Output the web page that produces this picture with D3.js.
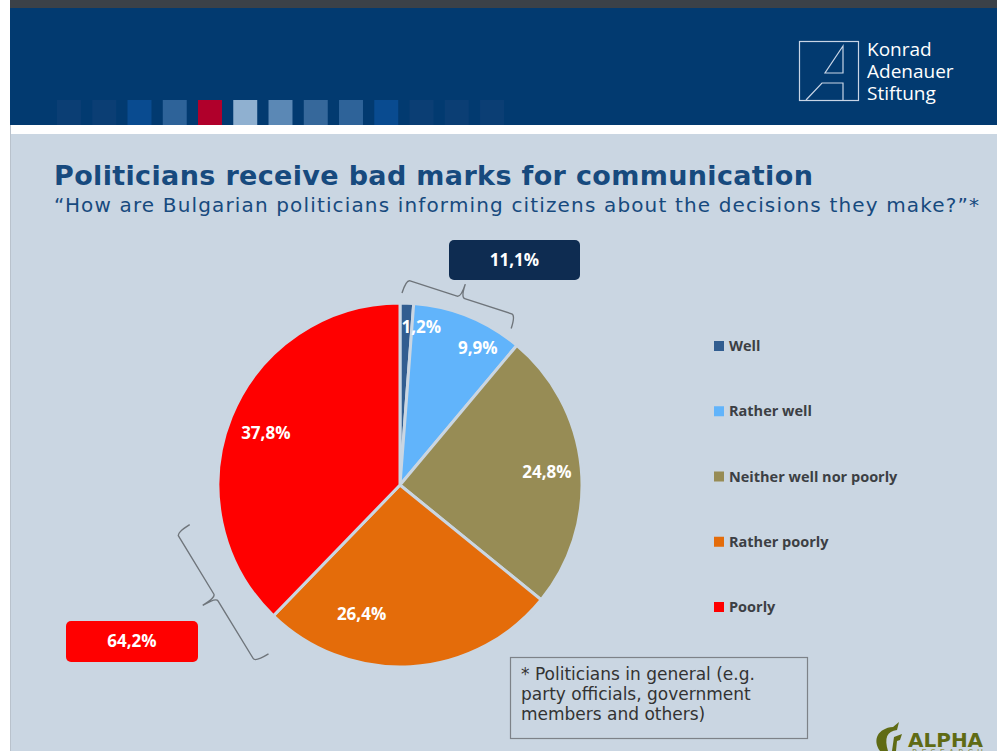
<!DOCTYPE html>
<html>
<head>
<meta charset="utf-8">
<script src="https://cdn.jsdelivr.net/npm/d3@7"></script>
<style>
  body { margin: 0; background: #ffffff; }
  svg { display: block; }
</style>
</head>
<body>
<div id="chart"></div>
<script>
'use strict';

// Survey answers
const categories = ['Well', 'Rather well', 'Neither well nor poorly', 'Rather poorly', 'Poorly'];
const shares = [1.2, 9.9, 24.8, 26.4, 37.8];
const shareLabels = ['1,2%', '9,9%', '24,8%', '26,4%', '37,8%'];
// Grouped totals shown in the callout boxes
const groupNames = ['positive', 'negative'];
const groupLabels = ['11,1%', '64,2%'];

const colors = ['#315d90', '#61b4fb', '#978c55', '#e46c0a', '#ff0000'];
const headerSquares = ['#0b3e74', '#0b3e74', '#094b90', '#2e6399', '#b0002b', '#8fb0d0',
  '#5b88b5', '#36689b', '#2e6399', '#094b90', '#0b3e74', '#0b3e74', '#0b3e74'];

const W = 997, H = 751;
const bg = '#cad6e2';
const labelFont = '"Open Sans", sans-serif';

const svg = d3.select('#chart').append('svg')
  .attr('width', W)
  .attr('height', H);

// Slide frame : header band, white strip and body
svg.append('rect').attr('x', 10).attr('y', 0).attr('width', W - 10).attr('height', 9).attr('fill', '#3b4148');
svg.append('rect').attr('x', 10).attr('y', 8).attr('width', W - 10).attr('height', 117).attr('fill', '#023a70');
svg.append('rect').attr('x', 10).attr('y', 134).attr('width', W - 10).attr('height', H - 134).attr('fill', bg);
svg.append('line').attr('x1', 10.5).attr('x2', 10.5).attr('y1', 125).attr('y2', H).attr('stroke', '#b9c2cc');

// Row of coloured squares in the header
const sq = d3.scaleBand().domain(d3.range(headerSquares.length)).range([57, 504]).paddingInner(0.32);
svg.append('g').selectAll('rect')
  .data(headerSquares)
  .join('rect')
  .attr('x', (d, i) => sq(i))
  .attr('y', 100)
  .attr('width', sq.bandwidth())
  .attr('height', 25)
  .attr('fill', d => d);

// Konrad Adenauer Stiftung logo
const logo = svg.append('g').attr('fill', 'none').attr('stroke', '#c9d5e6').attr('stroke-width', 1.2);
logo.append('rect').attr('x', 799.5).attr('y', 41.5).attr('width', 59).attr('height', 59);
logo.append('path').attr('d', 'M843,46 L825,73 L843,73 Z');
logo.append('path').attr('d', 'M806,100 L822,83 L843,83 L843,100');
svg.append('g').selectAll('text')
  .data(['Konrad', 'Adenauer', 'Stiftung'])
  .join('text')
  .attr('x', 867)
  .attr('y', (d, i) => 56 + i * 22)
  .attr('fill', '#ffffff')
  .style('font-family', '"Open Sans", sans-serif')
  .style('font-size', '19px')
  .text(d => d);

// Titles
svg.append('text')
  .attr('x', 54).attr('y', 185)
  .attr('fill', '#174a7e')
  .style('font-family', '"DejaVu Sans", Verdana, sans-serif')
  .style('font-weight', 'bold')
  .style('font-size', '27px')
  .style('letter-spacing', '0.35px')
  .text('Politicians receive bad marks for communication');
svg.append('text')
  .attr('x', 54).attr('y', 212)
  .attr('fill', '#174a7e')
  .style('font-family', '"DejaVu Sans", Verdana, sans-serif')
  .style('font-size', '20px')
  .style('letter-spacing', '1.15px')
  .text('\u201CHow are Bulgarian politicians informing citizens about the decisions they make?\u201D*');

// Pie
const cx = 400, cy = 485, radius = 182;
const pie = d3.pie().sort(null).value(d => d);
const arcs = pie(shares);
const arc = d3.arc().innerRadius(0).outerRadius(radius);

const pieG = svg.append('g').attr('transform', `translate(${cx}, ${cy})`);
pieG.selectAll('path')
  .data(arcs)
  .join('path')
  .attr('d', arc)
  .attr('fill', (d, i) => colors[i])
  .attr('stroke', bg)
  .attr('stroke-width', 3);

// Label placement : fraction of radius and angular shift (degrees) per slice
const labelRadius = [0.875, 0.865, 0.81, 0.74, 0.79];
const labelShift = [5.5, 7.5, 0.5, 20, -1];
pieG.selectAll('text')
  .data(arcs)
  .join('text')
  .attr('transform', (d, i) => {
    const a = (d.startAngle + d.endAngle) / 2 + labelShift[i] * Math.PI / 180;
    const r = radius * labelRadius[i];
    return `translate(${r * Math.sin(a)}, ${-r * Math.cos(a)})`;
  })
  .attr('text-anchor', 'middle')
  .attr('dy', '0.35em')
  .attr('fill', '#ffffff')
  .style('font-family', labelFont)
  .style('font-weight', 'bold')
  .style('font-size', '17px')
  .text((d, i) => shareLabels[i]);

// Curly brace : from p1 to p2, tip pointing to the left of p1->p2 at distance w
function bracePath(p1, p2, w) {
  const len = Math.hypot(p2[0] - p1[0], p2[1] - p1[1]);
  const t = [(p2[0] - p1[0]) / len, (p2[1] - p1[1]) / len];
  const n = [t[1], -t[0]];
  const h = w / 2, r = 4;
  const pt = (base, a, b) => [base[0] + n[0] * a + t[0] * b, base[1] + n[1] * a + t[1] * b];
  const mid = [(p1[0] + p2[0]) / 2, (p1[1] + p2[1]) / 2];
  const b1 = pt(p1, h, 0), b2 = pt(p2, h, 0), m = pt(mid, h, 0), tip = pt(mid, w, 0);
  const f = p => p[0].toFixed(1) + ',' + p[1].toFixed(1);
  return `M${f(p1)} Q${f(b1)} ${f(pt(b1, 0, r))} L${f(pt(m, 0, -r))} Q${f(m)} ${f(tip)}` +
    ` M${f(p2)} Q${f(b2)} ${f(pt(b2, 0, -r))} L${f(pt(m, 0, r))} Q${f(m)} ${f(tip)}`;
}

// Braces sit outside the pie; angles (degrees, clockwise from top) and radius of their ends
const braceAngles = [[0.6, 35.4], [217.9, 259.3]];
const braceRadius = [192, 214];
const braceWidth = [28, 31];
braceAngles.forEach((ang, gi) => {
  const rr = braceRadius[gi];
  const end = a => [cx + rr * Math.sin(a * Math.PI / 180), cy - rr * Math.cos(a * Math.PI / 180)];
  svg.append('path')
    .attr('class', 'brace-' + groupNames[gi])
    .attr('d', bracePath(end(ang[0]), end(ang[1]), braceWidth[gi]))
    .attr('fill', 'none')
    .attr('stroke', '#6f757b')
    .attr('stroke-width', 1.4);
});

// Callout boxes with the group totals
const boxes = [
  { x: 449, y: 240, w: 131, h: 40, fill: '#0e2c51' },
  { x: 66, y: 621, w: 132, h: 41, fill: '#ff0000' }
];
boxes.forEach((b, i) => {
  svg.append('rect')
    .attr('x', b.x).attr('y', b.y).attr('width', b.w).attr('height', b.h)
    .attr('rx', 5).attr('fill', b.fill);
  svg.append('text')
    .attr('x', b.x + b.w / 2).attr('y', b.y + b.h / 2)
    .attr('dy', '0.35em')
    .attr('text-anchor', 'middle')
    .attr('fill', '#ffffff')
    .style('font-family', labelFont)
    .style('font-weight', 'bold')
    .style('font-size', '17px')
    .text(groupLabels[i]);
});

// Legend
const legendY = d3.scalePoint().domain(categories).range([346, 607]);
const legend = svg.append('g').selectAll('g')
  .data(categories)
  .join('g')
  .attr('transform', d => `translate(714, ${legendY(d)})`);
legend.append('rect')
  .attr('x', 0).attr('y', -5).attr('width', 10).attr('height', 10)
  .attr('fill', (d, i) => colors[i]);
legend.append('text')
  .attr('x', 15).attr('dy', '0.35em')
  .attr('fill', '#3c3f44')
  .style('font-family', labelFont)
  .style('font-weight', 'bold')
  .style('font-size', '14.5px')
  .text(d => d);

// Footnote box
svg.append('rect')
  .attr('x', 510.5).attr('y', 657.5).attr('width', 297).attr('height', 81)
  .attr('fill', 'none').attr('stroke', '#7d8288').attr('stroke-width', 1.2);
svg.append('g').selectAll('text')
  .data(['* Politicians in general (e.g.', 'party officials, government', 'members and others)'])
  .join('text')
  .attr('x', 521)
  .attr('y', (d, i) => 680 + i * 20)
  .attr('fill', '#333333')
  .style('font-family', '"DejaVu Sans", Verdana, sans-serif')
  .style('font-size', '17px')
  .text(d => d);

// Alpha Research logo (cut by the slide edge)
svg.append('path')
  .attr('d', 'M880,751 C872,740 878,728 893,727 L899,722 L897,730 C887,731 884,738 888,751 Z M892,751 L894,737 L902,734 L900,740 L897,741 L896,751 Z')
  .attr('fill', '#5f6b14');
svg.append('text')
  .attr('x', 908).attr('y', 747)
  .attr('fill', '#5f6b14')
  .style('font-family', '"DejaVu Sans", sans-serif')
  .style('font-weight', 'bold')
  .style('font-size', '20px')
  .text('ALPHA');
svg.append('text')
  .attr('x', 912).attr('y', 756)
  .attr('fill', '#8c934f')
  .style('font-family', '"DejaVu Sans", sans-serif')
  .style('font-size', '8px')
  .style('letter-spacing', '4px')
  .text('RESEARCH');
</script>
</body>
</html>
